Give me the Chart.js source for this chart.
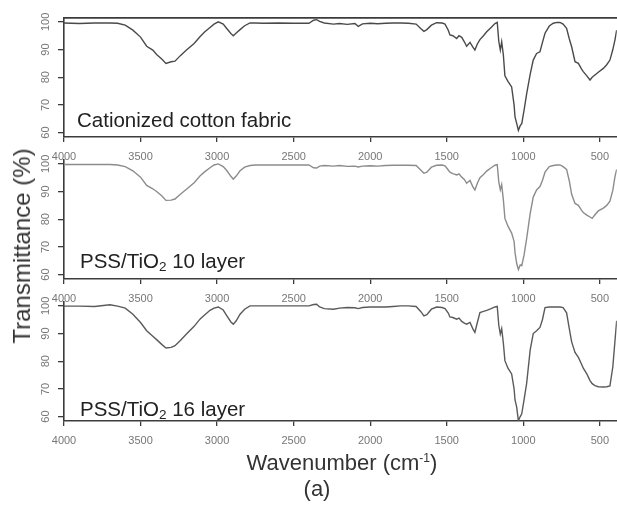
<!DOCTYPE html>
<html>
<head>
<meta charset="utf-8">
<script src="https://cdn.jsdelivr.net/npm/chart.js@4.4.1/dist/chart.umd.min.js"></script>
<style>
    body { margin: 0; background: #fff; width: 617px; height: 505px; position: relative; overflow: hidden;
           font-family: "Liberation Sans", Arial, sans-serif; }
    .panel { position: absolute; left: 0; width: 617px; height: 161px; }
    .lbl { position: absolute; font-size: 20.5px; line-height: 1; color: #222; white-space: nowrap; }
    .lbl .sub { font-size: 0.66em; position: relative; top: 0.25em; }
    .ttl { position: absolute; font-size: 22px; line-height: 1; color: #333; white-space: nowrap; transform: translate(-50%, -50%); }
    .ttl sup { font-size: 0.55em; vertical-align: 0.7em; }
</style>
</head>
<body>

<div class="panel" style="top:6px"><canvas id="panel-1"></canvas></div>
<div class="panel" style="top:148px"><canvas id="panel-2"></canvas></div>
<div class="panel" style="top:290px"><canvas id="panel-3"></canvas></div>

<div class="lbl" style="left:77px; top:110px">Cationized cotton fabric</div>
<div class="lbl" style="left:80px; top:251px">PSS/TiO<span class="sub">2</span> 10 layer</div>
<div class="lbl" style="left:80px; top:399px">PSS/TiO<span class="sub">2</span> 16 layer</div>

<div class="ttl" style="left:22px; top:246px; font-size:24px; transform: translate(-50%, -50%) rotate(-90deg)">Transmittance (%)</div>
<div class="ttl" style="left:342px; top:463px">Wavenumber (cm<sup>-1</sup>)</div>
<div class="ttl" style="left:317px; top:489px">(a)</div>

<script>
// wavenumber points (cm-1) shared by the three spectra
const wavenumbers = [4000, 3900, 3800, 3700, 3650, 3600, 3550, 3500, 3460, 3420, 3395, 3360, 3334, 3300, 3275, 3240,
    3200, 3150, 3112, 3080, 3046, 3020, 2992, 2960, 2937, 2910, 2894, 2875, 2850, 2820, 2785, 2750, 2700, 2600,
    2500, 2400, 2370, 2350, 2330, 2300, 2240, 2200, 2150, 2100, 2078, 2050, 2000, 1950, 1900, 1850, 1800, 1750,
    1700, 1670, 1649, 1630, 1600, 1566, 1530, 1511, 1490, 1479, 1460, 1435, 1420, 1402, 1385, 1370, 1348, 1330,
    1316, 1300, 1283, 1260, 1239, 1210, 1185, 1170, 1160, 1150, 1141, 1130, 1120, 1100, 1076, 1060, 1054, 1043,
    1032, 1020, 1010, 995, 978, 955, 935, 913, 891, 875, 858, 830, 804, 780, 760, 740, 717, 700, 684, 662, 640,
    620, 608, 585, 564, 550, 532, 510, 477, 455, 434, 415, 401, 390];

// transmittance (%) - cationized cotton fabric
const cottonT = [99.6, 99.4, 99.6, 99.6, 99.5, 98.8, 97.0, 94.5, 91.2, 89.8, 88.2, 86.5, 85.0, 85.6, 85.8, 87.8,
    89.8, 92.2, 94.6, 96.4, 98.0, 99.2, 100.0, 99.2, 97.6, 95.8, 95.0, 96.0, 97.2, 98.6, 99.6, 99.6, 99.5, 99.6,
    99.5, 99.5, 100.6, 100.8, 100.2, 99.6, 99.2, 99.4, 99.1, 99.4, 98.4, 99.3, 99.5, 99.3, 99.5, 99.6, 99.6, 99.5,
    99.2, 97.6, 96.6, 97.2, 98.8, 99.7, 99.6, 99.2, 97.0, 95.3, 95.0, 94.0, 95.0, 94.4, 92.8, 91.2, 92.6, 91.0,
    89.8, 92.0, 93.6, 95.0, 96.4, 98.0, 99.4, 99.8, 93.0, 89.8, 92.8, 88.0, 80.5, 78.5, 76.5, 70.0, 65.7, 63.3,
    60.8, 62.5, 63.2, 68.0, 74.0, 81.0, 86.2, 88.6, 89.2, 92.5, 95.9, 98.5, 99.5, 99.8, 99.8, 99.2, 97.7, 94.0,
    91.0, 85.6, 85.0, 83.0, 82.0, 80.5, 79.0, 80.0, 80.8, 81.8, 83.2, 84.5, 86.2, 90.0, 93.5, 97.0];

// PSS/TiO2 10 layer
const tio10T = [99.8, 99.8, 99.8, 99.8, 99.6, 99.0, 97.5, 95.2, 92.2, 91.0, 90.0, 88.4, 86.8, 86.9, 87.3, 89.0,
    90.8, 93.2, 95.6, 97.2, 98.6, 99.6, 100.0, 99.0, 97.6, 95.5, 94.5, 95.6, 97.5, 98.8, 99.4, 99.6, 99.6, 99.6,
    99.6, 99.6, 98.6, 98.5, 99.2, 99.4, 99.2, 99.4, 99.1, 99.2, 98.9, 99.2, 99.3, 99.2, 99.4, 99.5, 99.5, 99.5,
    99.4, 97.8, 96.6, 97.0, 98.8, 99.5, 99.6, 99.3, 97.8, 97.0, 96.5, 96.0, 96.4, 95.2, 94.4, 93.0, 94.0, 91.8,
    90.6, 93.0, 95.0, 96.2, 97.4, 98.6, 99.5, 99.7, 93.5, 90.6, 92.5, 87.0, 80.3, 77.5, 75.0, 72.0, 68.0, 64.0,
    61.8, 63.5, 63.2, 67.0, 73.0, 82.0, 88.0, 90.6, 91.8, 94.0, 97.0, 99.0, 99.4, 99.6, 99.6, 99.0, 98.0, 94.0,
    89.0, 85.7, 85.0, 83.3, 82.4, 81.5, 80.8, 80.3, 81.6, 83.0, 84.0, 85.0, 86.5, 90.5, 95.4, 98.0];

// PSS/TiO2 16 layer
const tio16T = [99.9, 99.9, 99.8, 100.4, 99.9, 99.2, 97.0, 94.0, 91.0, 89.0, 87.8, 86.0, 84.8, 85.0, 85.6, 87.5,
    89.8, 92.6, 95.2, 96.8, 98.4, 99.2, 99.6, 98.5, 96.5, 94.2, 93.4, 94.6, 97.0, 98.8, 100.0, 100.0, 100.0, 100.0,
    100.0, 100.0, 100.5, 100.6, 99.6, 99.0, 98.8, 99.2, 99.4, 99.3, 99.0, 99.4, 99.6, 99.6, 99.6, 99.8, 100.0, 100.0,
    99.8, 98.0, 96.4, 96.8, 98.8, 99.6, 99.4, 99.0, 97.4, 96.0, 95.8, 95.2, 95.6, 94.4, 93.8, 93.4, 94.0, 91.8,
    90.4, 94.0, 97.6, 98.0, 98.4, 99.0, 99.6, 99.8, 93.0, 89.8, 91.8, 86.5, 80.2, 77.5, 75.4, 70.0, 66.0, 63.4,
    58.5, 60.0, 61.0, 66.0, 72.0, 84.0, 90.0, 91.0, 92.2, 95.0, 99.4, 99.6, 99.6, 99.6, 99.6, 99.4, 97.5, 92.0,
    87.0, 83.2, 81.4, 79.0, 77.5, 75.4, 73.0, 71.9, 71.2, 70.8, 70.7, 70.8, 71.1, 78.0, 87.4, 94.6];

const xTicks = [4000, 3500, 3000, 2500, 2000, 1500, 1000, 500];
const yTicks = [60, 70, 80, 90, 100];

Chart.defaults.font.family = '"Liberation Sans", Arial, sans-serif';

function makePanel(id, values, color, topFrame) {
    const axisColor = '#3c3c3c';
    const scales = {
        x: {
            type: 'linear', reverse: true, min: 389, max: 4000,
            afterBuildTicks: function (s) { s.ticks = xTicks.map(v => ({ value: v })); },
            afterFit: function (s) { s.height = 30; },
            ticks: { font: { size: 11 }, color: '#777', padding: 8, maxRotation: 0, autoSkip: false,
                     callback: v => String(v) },
            grid: { drawOnChartArea: false, tickLength: 5, color: axisColor, lineWidth: 1.3 },
            border: { display: true, color: axisColor, width: 1.6 }
        },
        y: {
            min: 58.4, max: 101.4,
            afterBuildTicks: function (s) { s.ticks = yTicks.map(v => ({ value: v })); },
            afterFit: function (s) { s.width = 64; },
            ticks: { font: { size: 11 }, color: '#777', minRotation: 90, maxRotation: 90, crossAlign: 'center', padding: 3,
                     callback: v => String(v) },
            grid: { drawOnChartArea: false, tickLength: 6, color: axisColor, lineWidth: 1.3 },
            border: { display: true, color: axisColor, width: 1.6 }
        }
    };
    if (topFrame) {
        scales.xTop = {
            type: 'linear', position: 'top', reverse: true, min: 389, max: 4000,
            afterFit: function (s) { s.height = 0; },
            ticks: { display: false },
            grid: { display: false, drawTicks: false },
            border: { display: true, color: axisColor, width: 1.8 }
        };
    }
    return new Chart(document.getElementById(id), {
        type: 'line',
        data: {
            datasets: [{
                data: wavenumbers.map((w, i) => ({ x: w, y: values[i] })),
                borderColor: color,
                borderWidth: 1.4,
                pointRadius: 0,
                tension: 0,
                fill: false
            }]
        },
        options: {
            responsive: true,
            maintainAspectRatio: false,
            animation: false,
            layout: { padding: { top: 12, left: 0, right: 0, bottom: 0 } },
            plugins: { legend: { display: false }, tooltip: { enabled: false } },
            scales: scales
        }
    });
}

makePanel('panel-1', cottonT, '#4a4a4a', true);
makePanel('panel-2', tio10T, '#8c8c8c', false);
makePanel('panel-3', tio16T, '#5a5a5a', false);
</script>
</body>
</html>
